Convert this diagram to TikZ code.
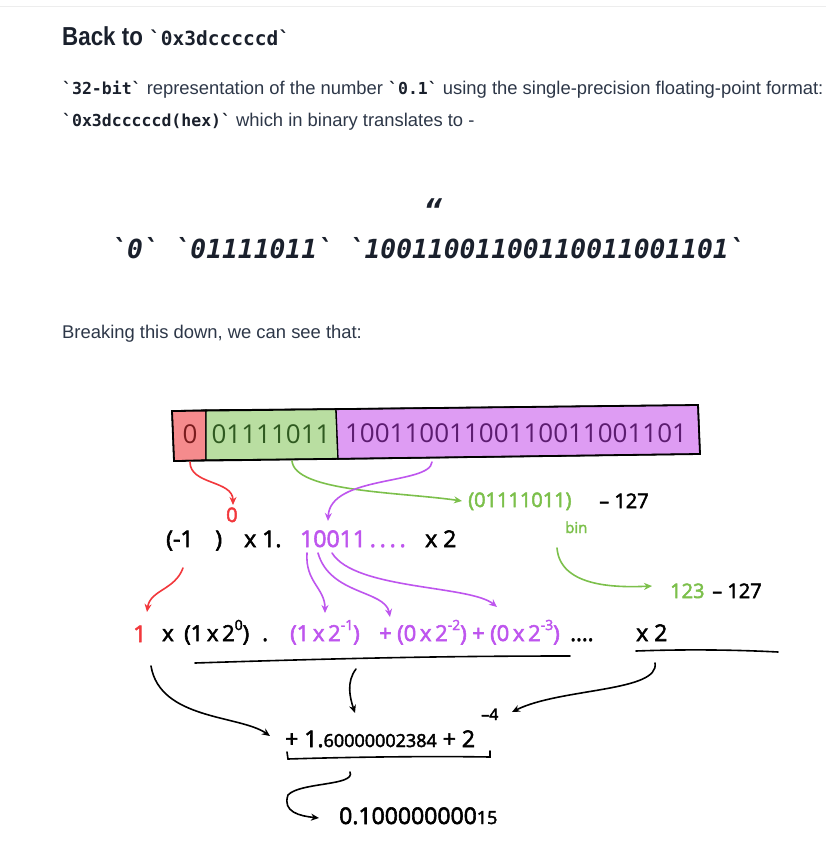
\documentclass[tikz,border=0pt]{standalone}
\usepackage{fontspec}
\setmainfont{Liberation Sans}
\setmonofont{DejaVu Sans Mono}
\newfontfamily\headfont[FakeStretch=0.86]{Liberation Sans}
\newfontfamily\handfont[FakeBold=2.5]{Open Sans}
\newfontfamily\barfont{Open Sans}
\usetikzlibrary{arrows.meta}

\definecolor{ink}{HTML}{2D3748}
\definecolor{headink}{HTML}{1A202C}
\definecolor{rulegray}{HTML}{EDEDED}
\definecolor{signred}{HTML}{F2383C}
\definecolor{expgreen}{HTML}{7CC04B}
\definecolor{manpurple}{HTML}{BE55EE}
\definecolor{signfill}{HTML}{F58B8D}
\definecolor{expfill}{HTML}{B9DEA1}
\definecolor{manfill}{HTML}{DE9CF3}
\definecolor{signdark}{HTML}{7A1C1E}
\definecolor{expdark}{HTML}{2F5A20}
\definecolor{mandark}{HTML}{5C1C70}

\tikzset{
  txt/.style={inner sep=0pt, anchor=base west, text=ink, font=\fontsize{18.4}{18.4}\selectfont},
  hand/.style={inner sep=0pt, anchor=base west, font=\handfont\fontsize{23}{23}\selectfont},
  small/.style={hand, font=\handfont\fontsize{20}{20}\selectfont},
  term/.style={hand, font=\handfont\fontsize{22}{22}\selectfont},
  bartext/.style={inner sep=0pt, anchor=base, font=\barfont\fontsize{26}{26}\selectfont},
  stroke/.style={line width=1.6pt, line cap=round},
  arr/.style={stroke, -{Stealth[length=8pt, width=7pt]}}
}
\newcommand{\code}[1]{{\ttfamily\bfseries\fontsize{16.5}{16.5}\selectfont\color{headink}`#1`}}
\newcommand{\hsup}[1]{\raisebox{0.5em}{\fontsize{14}{14}\selectfont#1}}

\begin{document}
\begin{tikzpicture}[x=1pt, y=-1pt]
    \useasboundingbox (0,0) rectangle (826,851);
    \fill[white] (0,0) rectangle (826,851);
    \draw[rulegray, line width=1pt] (0,7) -- (826,7);

    % page text
    \node[txt, text=headink, font=\headfont\bfseries\fontsize{26}{26}\selectfont] (head) at (62,46)
        {Back to {\ttfamily\fontsize{19.5}{19.5}\selectfont`0x3dcccccd`}};
    \node[txt] (line1) at (62,94)
        {\code{32-bit} representation of the number \code{0.1} using the single-precision floating-point format:};
    \node[txt] (line2) at (62,126)
        {\code{0x3dcccccd(hex)} which in binary translates to -};
    \node[inner sep=0pt, text=headink, font=\ttfamily\bfseries\itshape\fontsize{30}{30}\selectfont] (quote) at (433,210) {“};
    \node[inner sep=0pt, anchor=base, text=headink, font=\ttfamily\bfseries\itshape\fontsize{26.3}{26.3}\selectfont] (bits) at (428,258)
        {`0` `01111011` `10011001100110011001101`};
    \node[txt] (line3) at (62,338) {Breaking this down, we can see that:};

    % bar
    \filldraw[fill=signfill, line width=1.3pt] (172,411) -- (206,410) -- (206,460) -- (174,461) -- cycle;
    \filldraw[fill=expfill, line width=1.3pt] (206,410) -- (336,409) -- (338,459) -- (206,460) -- cycle;
    \filldraw[fill=manfill, line width=1.3pt] (336,409) -- (698,405) -- (700,454) -- (338,459) -- cycle;
    \draw[line width=1.8pt] (172,411) -- (698,405) -- (700,454) -- (174,461) -- cycle;
    \node[bartext, text=signdark] (sgn) at (190,443) {0};
    \node[bartext, text=expdark] (expo) at (271,443) {01111011};
    \node[bartext, text=mandark] (mant) at (516,442) {10011001100110011001101};

    % first line
    \node[hand] (minus) at (166,547) {(-1\ \ \ \,)};
    \node[small, text=signred] (zero) at (226,522) {0};
    \node[hand] (onedot) at (244,547) {x 1.};
    \node[hand, text=manpurple] (frac) at (300,547) {10011\,.\,.\,.\,.};
    \node[hand] (twoa) at (425,547) {x 2};
    \node[small, text=expgreen] (ebin) at (468,507) {(01111011)};
    \node[small, text=expgreen, font=\handfont\fontsize{15}{15}\selectfont] (bin) at (565,533) {bin};
    \node[small] (biasa) at (599,508) {– 127};
    \node[small, text=expgreen] (edec) at (670,598) {123};
    \node[small] (biasb) at (712,598) {– 127};

    % second line
    \node[hand, text=signred] (one) at (133,642) {1};
    \node[term] (times) at (162,641) {x};
    \node[term] (termz) at (184,641) {(1\,x\,2\hsup{0})};
    \node[term] (dot) at (262,641) {.};
    \node[term, text=manpurple] (terma) at (290,641) {(1\,x\,2\hsup{-1})};
    \node[term, text=manpurple] (plusa) at (379,641) {+};
    \node[term, text=manpurple] (termb) at (397,641) {(0\,x\,2\hsup{-2})};
    \node[term, text=manpurple] (plusb) at (472,641) {+};
    \node[term, text=manpurple] (termc) at (490,641) {(0\,x\,2\hsup{-3})};
    \node[term] (dots) at (570,641) {....};
    \node[hand] (twob) at (636,641) {x 2};
    \draw[stroke] (195,663) .. controls (350,658) and (450,656) .. (570,656);
    \draw[stroke] (636,651) .. controls (690,649) and (740,650) .. (778,652);

    % third line
    \node[hand] (sum) at (285,747) {+ 1.{\fontsize{18}{18}\selectfont 60000002384} + 2};
    \node[small, font=\handfont\fontsize{16}{16}\selectfont] (expm) at (481,720) {–4};
    \draw[stroke] (287,752) -- (288,759) .. controls (350,757) and (430,756) .. (490,757) -- (490,751);
    \node[hand] (result) at (339,824) {0.100000000{\fontsize{18}{18}\selectfont 15}};
    \coordinate (brace) at (356,669);
    \coordinate (bracket) at (350,772);

    % arrows
    \draw[arr, signred] ([yshift=-19pt]sgn.base) .. controls (190,485) and (233,480) .. ([xshift=7pt, yshift=17pt]zero.base west);
    \draw[arr, expgreen] ([xshift=21pt, yshift=-18pt]expo.base) .. controls (295,492) and (400,492) .. ([xshift=-6pt, yshift=6pt]ebin.base west);
    \draw[arr, manpurple] ([xshift=-84pt, yshift=-20pt]mant.base) .. controls (430,485) and (330,475) .. ([xshift=28pt, yshift=26pt]frac.base west);
    \draw[arr, expgreen] ([xshift=-8pt, yshift=-15pt]bin.base west) .. controls (560,585) and (610,588) .. ([xshift=-18pt, yshift=12pt]edec.base west);
    \draw[arr, signred] ([xshift=17pt, yshift=-21pt]minus.base west) .. controls (175,590) and (150,590) .. ([xshift=14pt, yshift=30pt]one.base west);
    \draw[arr, manpurple] ([xshift=7pt, yshift=-6pt]frac.base west) .. controls (305,582) and (325,588) .. ([xshift=35pt, yshift=28pt]terma.base west);
    \draw[arr, manpurple] ([xshift=18pt, yshift=-6pt]frac.base west) .. controls (330,595) and (385,590) .. ([xshift=-7pt, yshift=24pt]termb.base west);
    \draw[arr, manpurple] ([xshift=32pt, yshift=-6pt]frac.base west) .. controls (355,590) and (470,585) .. ([xshift=7pt, yshift=34pt]termc.base west);
    \draw[arr, black] (brace) .. controls (346,682) and (350,698) .. ([xshift=70pt, yshift=34pt]sum.base west);
    \draw[arr, black] ([xshift=18pt, yshift=-24pt]one.base west) .. controls (160,720) and (240,715) .. ([xshift=-15pt, yshift=11pt]sum.base west);
    \draw[arr, black] ([xshift=19pt, yshift=-22pt]twob.base west) .. controls (660,692) and (560,688) .. ([xshift=31pt, yshift=8pt]expm.base west);
    \draw[arr, black] (bracket) .. controls (356,786) and (300,782) .. (288,795) .. controls (282,812) and (300,816) .. ([xshift=-20pt, yshift=6pt]result.base west);
\end{tikzpicture}
\end{document}
